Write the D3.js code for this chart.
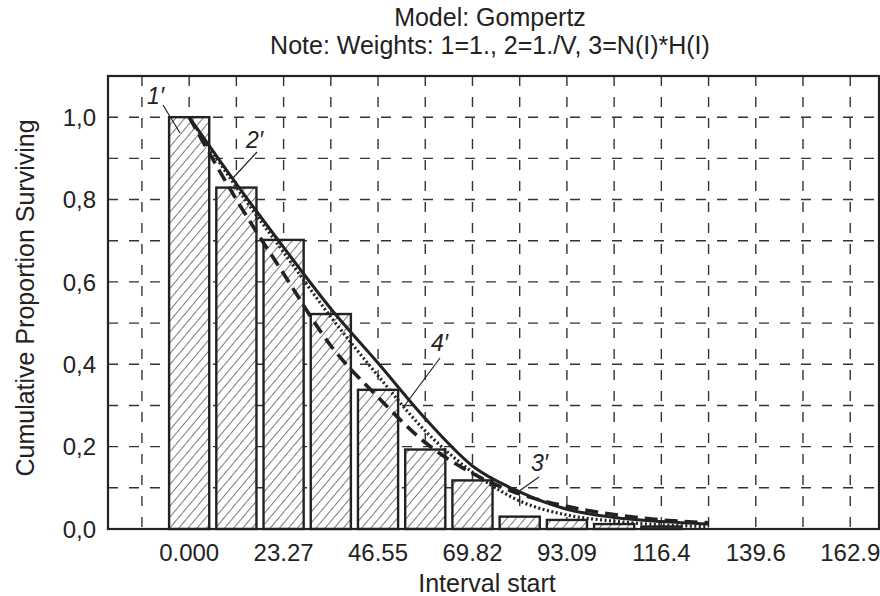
<!DOCTYPE html>
<html lang="en">
<head>
<meta charset="utf-8">
<title>Gompertz survival</title>
<script src="https://d3js.org/d3.v7.min.js"></script>
<style>
  body { margin: 0; background: #fff; }
  text { font-family: "Liberation Sans", Arial, sans-serif; fill: #222; }
</style>
</head>
<body>
<svg id="chart" width="880" height="596"></svg>
<script>
// interval width of the life table
var step = 11.6364;

// observed cumulative proportion surviving, one bar per interval start
var barValues = [1.0, 0.829, 0.702, 0.522, 0.338, 0.193, 0.118, 0.030, 0.022, 0.012, 0.006];

// fitted curves, read at each interval start (0 .. 11)
var fitSolid  = [1.0, 0.838, 0.684, 0.535, 0.403, 0.268, 0.153, 0.090, 0.048, 0.028, 0.018, 0.012];
var fitDashed = [1.0, 0.800, 0.620, 0.445, 0.320, 0.210, 0.135, 0.085, 0.055, 0.035, 0.022, 0.015];
var fitDotted = [1.0, 0.830, 0.672, 0.515, 0.372, 0.238, 0.138, 0.068, 0.034, 0.019, 0.010, 0.006];

var xTickLabels = ["0.000", "23.27", "46.55", "69.82", "93.09", "116.4", "139.6", "162.9"];
var yTicks = [0, 0.2, 0.4, 0.6, 0.8, 1.0];

var svg = d3.select("#chart"),
    pl = 108, pt = 76, pr = 879, pb = 529;

var x = d3.scaleLinear().domain([-20, 170]).range([pl, pr]);
var y = d3.scaleLinear().domain([0, 1.1]).range([pb, pt]);

// hatch pattern for bars
var defs = svg.append("defs");
var pat = defs.append("pattern")
    .attr("id", "hatch")
    .attr("patternUnits", "userSpaceOnUse")
    .attr("width", 7).attr("height", 7)
    .attr("patternTransform", "rotate(40)");
pat.append("rect").attr("width", 7).attr("height", 7).attr("fill", "#fff");
pat.append("line").attr("x1", 0).attr("y1", 0).attr("x2", 0).attr("y2", 7)
    .attr("stroke", "#222").attr("stroke-width", 1.2);

// grid
var grid = svg.append("g");
d3.range(-1, 15).forEach(function(k) {
  grid.append("line")
    .attr("x1", x(k * step)).attr("x2", x(k * step))
    .attr("y1", pt).attr("y2", pb);
});
d3.range(1, 11).forEach(function(k) {
  grid.append("line")
    .attr("x1", pl).attr("x2", pr)
    .attr("y1", y(k / 10)).attr("y2", y(k / 10));
});
grid.selectAll("line")
    .attr("stroke", "#333").attr("stroke-width", 1.4)
    .attr("stroke-dasharray", "10,11");

// bars
svg.append("g").selectAll("rect")
  .data(barValues)
  .enter().append("rect")
    .attr("x", function(d, i) { return x(i * step - step * 0.425); })
    .attr("width", x(step * 0.85) - x(0))
    .attr("y", function(d) { return y(d); })
    .attr("height", function(d) { return y(0) - y(d); })
    .attr("fill", "url(#hatch)")
    .attr("stroke", "#222").attr("stroke-width", 2.4);

// fitted curves
var line = d3.line()
    .x(function(d, i) { return x(i * step); })
    .y(function(d) { return y(d); })
    .curve(d3.curveMonotoneX);

svg.append("path").attr("d", line(fitDotted))
    .attr("fill", "none").attr("stroke", "#222").attr("stroke-width", 3.2)
    .attr("stroke-dasharray", "2,2.5");
svg.append("path").attr("d", line(fitDashed))
    .attr("fill", "none").attr("stroke", "#222").attr("stroke-width", 3.6)
    .attr("stroke-dasharray", "13,7");
svg.append("path").attr("d", line(fitSolid))
    .attr("fill", "none").attr("stroke", "#222").attr("stroke-width", 3);

// frame
svg.append("rect")
    .attr("x", pl).attr("y", pt)
    .attr("width", pr - pl).attr("height", pb - pt)
    .attr("fill", "none").attr("stroke", "#222").attr("stroke-width", 2.2);

// y tick labels
svg.append("g").selectAll("text")
  .data(yTicks)
  .enter().append("text")
    .attr("x", pl - 12)
    .attr("y", function(d) { return y(d); })
    .attr("dy", "0.36em")
    .attr("text-anchor", "end")
    .attr("font-size", 24)
    .text(function(d) { return d3.format(".1f")(d).replace(".", ","); });

// x tick labels
svg.append("g").selectAll("text")
  .data(xTickLabels)
  .enter().append("text")
    .attr("x", function(d, i) { return x(i * 2 * step); })
    .attr("y", pb + 32)
    .attr("text-anchor", "middle")
    .attr("font-size", 24)
    .text(function(d) { return d; });

// axis titles
svg.append("text")
    .attr("x", 487).attr("y", 592)
    .attr("text-anchor", "middle").attr("font-size", 25)
    .text("Interval start");

svg.append("text")
    .attr("transform", "translate(34,298) rotate(-90)")
    .attr("text-anchor", "middle").attr("font-size", 25)
    .text("Cumulative Proportion Surviving");

// title
svg.append("text")
    .attr("x", 490).attr("y", 26)
    .attr("text-anchor", "middle").attr("font-size", 25)
    .text("Model: Gompertz");
svg.append("text")
    .attr("x", 490).attr("y", 54)
    .attr("text-anchor", "middle").attr("font-size", 25)
    .text("Note: Weights: 1=1., 2=1./V, 3=N(I)*H(I)");

// curve callouts: label position and leader end, in pixels
var notes = [
  { t: "1\u2032", tx: 147, ty: 104, x1: 163, y1: 105, x2: 180, y2: 133 },
  { t: "2\u2032", tx: 246, ty: 148, x1: 257, y1: 152, x2: 233, y2: 178 },
  { t: "4\u2032", tx: 431, ty: 351, x1: 440, y1: 358, x2: 405, y2: 405 },
  { t: "3\u2032", tx: 531, ty: 471, x1: 539, y1: 477, x2: 515, y2: 494 }
];
var ann = svg.append("g");
notes.forEach(function(n) {
  ann.append("line")
    .attr("x1", n.x1).attr("y1", n.y1).attr("x2", n.x2).attr("y2", n.y2)
    .attr("stroke", "#222").attr("stroke-width", 1.2);
  ann.append("text")
    .attr("x", n.tx).attr("y", n.ty)
    .attr("font-size", 23).attr("font-style", "italic")
    .text(n.t);
});
</script>
</body>
</html>
